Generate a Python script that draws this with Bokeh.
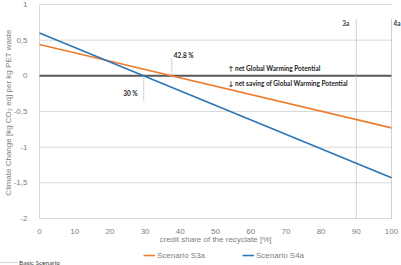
import math
from bokeh.plotting import figure
from bokeh.models import Range1d, FixedTicker, Label, Legend, LegendItem
from bokeh.embed import file_html
from bokeh.resources import INLINE

# ---- data ----
credit_share = [0, 100]          # credit share of the recyclate [%]
s3a = [0.44, -0.73]              # Scenario S3a
s4a = [0.60, -1.43]              # Scenario S4a
x_ticks = [0, 10, 20, 30, 40, 50, 60, 70, 80, 90, 100]
y_ticks = [-2, -1.5, -1, -0.5, 0, 0.5, 1]
y_tick_labels = ["-2", "-1,5", "-1", "-0,5", "0", "0,5", "1"]
basic_x = [90, 100]              # basic scenario markers
basic_labels = ["3a", "4a"]
basic_top = 0.8
breakeven_x = [29.6, 37.6]
breakeven_end = [-0.35, 0.25]
breakeven_labels = ["30 %", "42.8 %"]
gwp_texts = ["\u2191 net Global Warming Potential",
             "\u2193 net saving of Global Warming Potential"]
x_title = "credit share of the recyclate [%]"
y_title = "Climate Change [kg CO\u2082 eq] per kg PET waste"

ORANGE = "#ED7D31"
BLUE = "#2E75B6"
GREY_TXT = "#808080"
GRID = "#d9d9d9"
ANN_FONT = "Lato"
AX_FONT = "Liberation Sans"

# frame covers the whole canvas; axes are pinned at x=0 / y=-2
p = figure(width=401, height=265, output_backend="svg", toolbar_location=None,
           x_range=Range1d(-11.08, 102.84), y_range=Range1d(-2.659, 1.056),
           min_border=0)
p.outline_line_color = None
p.background_fill_color = "white"
p.border_fill_color = "white"
p.xgrid.visible = False
p.ygrid.visible = False

# horizontal grid lines over the data extent
n = len(y_ticks)
p.segment(x0=[credit_share[0]] * n, x1=[credit_share[-1]] * n, y0=y_ticks, y1=y_ticks,
          line_color=GRID, line_width=1)
# vertical axis line
p.segment(x0=[credit_share[0]], x1=[credit_share[0]], y0=[y_ticks[0]], y1=[y_ticks[-1]],
          line_color=GRID, line_width=1)

# axes
xa = p.xaxis[0]
ya = p.yaxis[0]
xa.fixed_location = y_ticks[0]
ya.fixed_location = credit_share[0]
xa.ticker = FixedTicker(ticks=x_ticks)
ya.ticker = FixedTicker(ticks=y_ticks)
ya.major_label_overrides = {t: l for t, l in zip(y_ticks, y_tick_labels)}
for ax in (xa, ya):
    ax.axis_line_color = None
    ax.major_tick_line_color = None
    ax.minor_tick_line_color = None
    ax.major_label_text_font = AX_FONT
    ax.major_label_text_font_size = "8px"
    ax.major_label_text_color = GREY_TXT
xa.major_label_standoff = 5
ya.major_label_standoff = 6

p.add_layout(Label(x=215, y=26, x_units="screen", y_units="screen", text=x_title,
                   text_align="center", text_baseline="middle", text_font=AX_FONT,
                   text_font_size="8px", text_color=GREY_TXT))
p.add_layout(Label(x=8, y=153, x_units="screen", y_units="screen", text=y_title,
                   angle=math.pi / 2, text_align="center", text_baseline="middle",
                   text_font=AX_FONT, text_font_size="8px", text_color=GREY_TXT))

# zero line
p.segment(x0=[credit_share[0]], x1=[credit_share[-1]], y0=[0], y1=[0],
          line_color="#595959", line_width=2)

# basic scenario dotted lines
r_basic = p.segment(x0=basic_x, y0=[y_ticks[0]] * len(basic_x), x1=basic_x,
                    y1=[basic_top] * len(basic_x), line_color="#a6a6a6",
                    line_width=1, line_dash="1 1")
# break-even dotted lines
p.segment(x0=breakeven_x, y0=[0] * len(breakeven_x), x1=breakeven_x, y1=breakeven_end,
          line_color="#a6a6a6", line_width=1, line_dash="1 1")

# series
r3 = p.line(credit_share, s3a, line_color=ORANGE, line_width=1.6)
r4 = p.line(credit_share, s4a, line_color=BLUE, line_width=1.6)

def ann(x, y, text, align, xoff=0, color="#262626"):
    p.add_layout(Label(x=x, y=y, text=text, x_offset=xoff, text_align=align,
                       text_baseline="middle", text_font=ANN_FONT,
                       text_font_size="6.5px", text_font_style="bold",
                       text_color=color))

ann(basic_x[0], 0.73, basic_labels[0], "right", -7, "#404040")
ann(basic_x[1], 0.73, basic_labels[1], "left", 2, "#404040")
ann(breakeven_x[0], -0.25, breakeven_labels[0], "right", -6)
ann(breakeven_x[1], 0.29, breakeven_labels[1], "left", 2)
ann(53.7, 0.10, gwp_texts[0], "left")
ann(53.7, -0.11, gwp_texts[1], "left")

# legends
leg = Legend(items=[LegendItem(label="Scenario S3a", renderers=[r3]),
                    LegendItem(label="Scenario S4a", renderers=[r4])],
             location=(143, 5), orientation="horizontal", padding=0, margin=0,
             spacing=37, glyph_width=12, glyph_height=10, label_height=10,
             label_standoff=2, label_text_font=AX_FONT,
             label_text_font_size="8px", label_text_color=GREY_TXT,
             background_fill_alpha=0, border_line_color=None)
p.add_layout(leg, "center")

leg2 = Legend(items=[LegendItem(label="Basic Scenario", renderers=[r_basic])],
              location=(0, -1), orientation="horizontal", padding=0, margin=0,
              glyph_width=17, glyph_height=8, label_height=8, label_standoff=2,
              label_text_font=ANN_FONT, label_text_font_size="6.5px",
              label_text_color="#404040", background_fill_alpha=0,
              border_line_color=None)
p.add_layout(leg2, "center")

open("out.html", "w").write(file_html(p, INLINE))
